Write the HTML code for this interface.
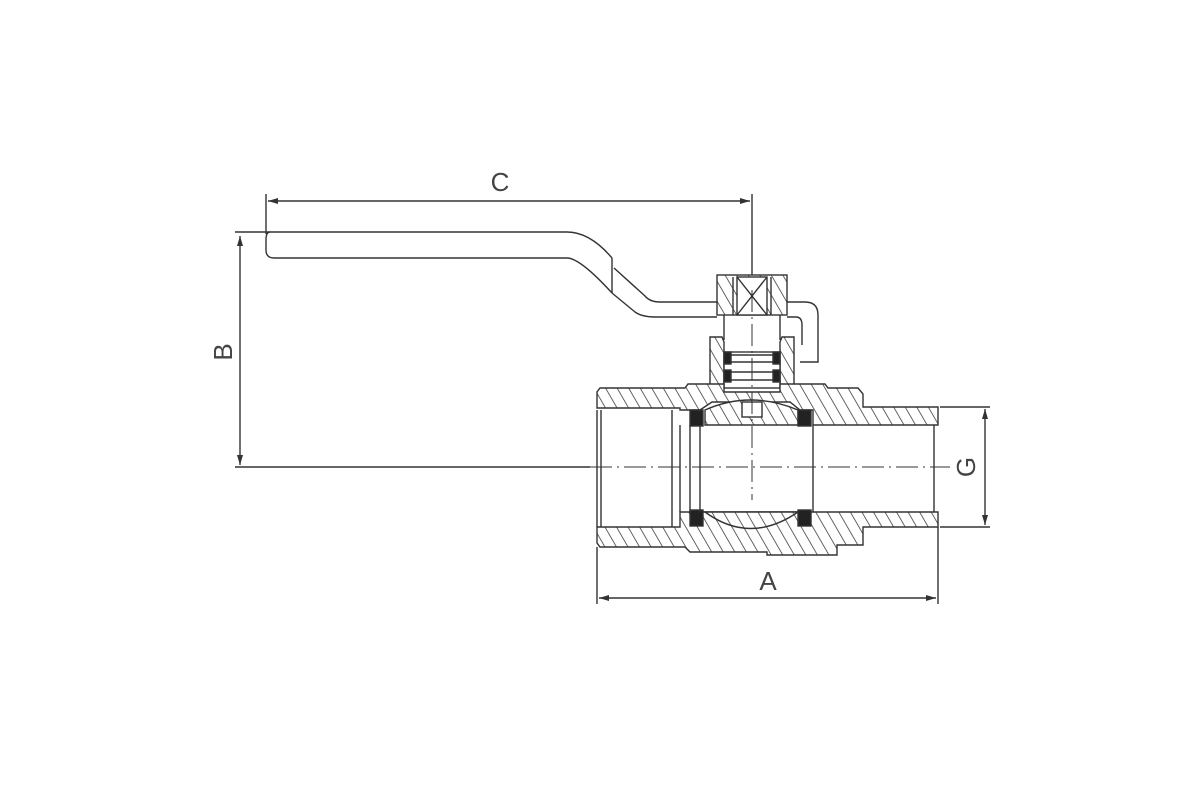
<!DOCTYPE html>
<html><head><meta charset="utf-8"><style>
html,body{margin:0;padding:0;background:#fff;}
svg{display:block}
text{font-family:"Liberation Sans",sans-serif;fill:#444}
</style></head><body>
<svg width="1200" height="800" viewBox="0 0 1200 800" xmlns="http://www.w3.org/2000/svg">
<defs>
<pattern id="h" patternUnits="userSpaceOnUse" width="10" height="10" patternTransform="rotate(-30)">
<rect width="10" height="10" fill="#fff"/><line x1="0" y1="0" x2="0" y2="10" stroke="#333" stroke-width="1.5"/>
</pattern>
<marker id="ar" viewBox="0 0 10 6" refX="10" refY="3" markerWidth="10" markerHeight="6" orient="auto-start-reverse" markerUnits="userSpaceOnUse">
<path d="M0,0 L10,3 L0,6 z" fill="#333"/></marker>
</defs>
<g stroke="#333" stroke-width="1.4" fill="none">
<line x1="266" y1="194" x2="266" y2="234"/>
<line x1="268" y1="201" x2="750" y2="201" marker-start="url(#ar)" marker-end="url(#ar)"/>
<line x1="752" y1="194" x2="752" y2="290"/>
<line x1="235" y1="232" x2="296" y2="232"/>
<line x1="240" y1="236" x2="240" y2="465" marker-start="url(#ar)" marker-end="url(#ar)"/>
<line x1="235" y1="467" x2="590" y2="467"/>
<path d="M296,232 L567,232 Q590,232 612,258"/>
<path d="M270,232 Q266,232 266,240 L266,250 Q266,258 274,258 L567,258 Q580,258 612,293"/>
<line x1="612" y1="258" x2="612" y2="293"/>
<path d="M614,268 L645,296 Q650,302 660,302 L717,302"/>
<path d="M612,293 L635,312 Q642,317 655,317 L717,317"/>
<path d="M787,302 L805,302 Q818,302 818,315 L818,362 L800,362"/>
<path d="M787,317 L796,317 Q802,317 802,325 L802,345"/>
<rect x="717" y="275" width="70" height="40" fill="url(#h)"/>
<rect x="737" y="277" width="30" height="38" fill="#fff"/>
<line x1="737" y1="277" x2="767" y2="315"/><line x1="767" y1="277" x2="737" y2="315"/>
<line x1="733" y1="277" x2="733" y2="315"/><line x1="771" y1="277" x2="771" y2="315"/>
<line x1="724" y1="315" x2="724" y2="340"/><line x1="780" y1="315" x2="780" y2="340"/>
<path d="M710,337 L722,337 L724,342 L724,388 L710,388 Z" fill="url(#h)"/>
<path d="M794,337 L782,337 L780,342 L780,388 L794,388 Z" fill="url(#h)"/>
<rect x="724" y="352" width="56" height="36" fill="#fff"/>
<line x1="730" y1="355" x2="774" y2="355"/><line x1="730" y1="362" x2="774" y2="362"/>
<line x1="730" y1="372" x2="774" y2="372"/><line x1="730" y1="380" x2="774" y2="380"/>
<rect x="724" y="352" width="7" height="12" fill="#222"/><rect x="773" y="352" width="7" height="12" fill="#222"/>
<rect x="724" y="370" width="7" height="12" fill="#222"/><rect x="773" y="370" width="7" height="12" fill="#222"/>
<path d="M600,388 L685,388 L688,384 L724,384 L724,392 L780,392 L780,384 L825,384 L828,388 L858,388 L863,394 L863,407 L938,407 L938,425 L813,425 L813,410 L800,410 L790,402 L712,402 L700,410 L690,410 L690,410 L680,410 L680,408 L597,408 L597,392 Z" fill="url(#h)"/>
<path d="M597,527 L680,527 L680,512 L938,512 L938,527 L863,527 L863,545 L837,545 L837,555 L767,555 L767,552 L690,552 L685,547 L600,547 L597,543 Z" fill="url(#h)"/>
<path d="M705,410 Q750,390 798,410 L798,425 L705,425 Z" fill="url(#h)"/>
<path d="M705,512 Q750,545 798,512 Z" fill="url(#h)"/>
<rect x="742" y="402" width="20" height="15" fill="#fff"/>
<rect x="690" y="410" width="13" height="16" fill="#222"/><rect x="798" y="410" width="13" height="16" fill="#222"/>
<rect x="690" y="510" width="13" height="16" fill="#222"/><rect x="798" y="510" width="13" height="16" fill="#222"/>
<line x1="597" y1="410" x2="597" y2="527"/>
<line x1="601" y1="410" x2="601" y2="527"/>
<line x1="672" y1="410" x2="672" y2="527"/>
<line x1="680" y1="425" x2="680" y2="512"/>
<line x1="690" y1="425" x2="690" y2="512"/>
<line x1="700" y1="425" x2="700" y2="512"/>
<line x1="813" y1="425" x2="813" y2="512"/>
<line x1="934" y1="425" x2="934" y2="512"/>
<line x1="590" y1="467" x2="950" y2="467" stroke-width="1" stroke-dasharray="22,5,2,5"/>
<line x1="752" y1="290" x2="752" y2="500" stroke-width="1" stroke-dasharray="22,5,2,5"/>
<line x1="940" y1="407" x2="990" y2="407"/><line x1="940" y1="527" x2="990" y2="527"/>
<line x1="985" y1="409" x2="985" y2="525" marker-start="url(#ar)" marker-end="url(#ar)"/>
<line x1="597" y1="547" x2="597" y2="604"/><line x1="938" y1="527" x2="938" y2="604"/>
<line x1="599" y1="598" x2="936" y2="598" marker-start="url(#ar)" marker-end="url(#ar)"/>
</g>
<text x="500" y="191" font-size="26" text-anchor="middle">C</text>
<text x="768" y="590" font-size="26" text-anchor="middle">A</text>
<text transform="translate(232,352) rotate(-90)" font-size="26" text-anchor="middle">B</text>
<text transform="translate(975,467) rotate(-90)" font-size="26" text-anchor="middle">G</text>
</svg>
</body></html>
